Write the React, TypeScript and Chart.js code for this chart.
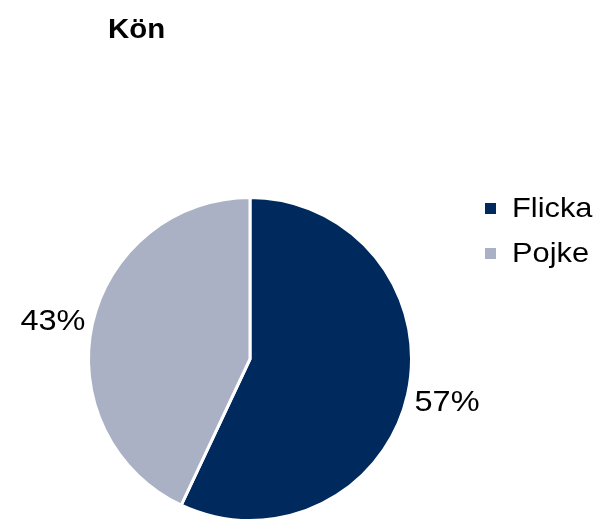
import React, { useEffect, useRef } from "react";
import { Chart, registerables } from "chart.js";

Chart.register(...registerables);

const title = "Kön";
const categories = ["Flicka", "Pojke"];
const values = [57, 43];
const colors = ["#002A5E", "#AAB1C4"];

const FONT = "'Liberation Sans', Arial, sans-serif";

function stretchText(ctx: CanvasRenderingContext2D, text: string, x: number, y: number, sx: number, align: "left" | "center") {
  const w = ctx.measureText(text).width * sx;
  const left = align === "center" ? x - w / 2 : x;
  ctx.save();
  ctx.translate(left, y);
  ctx.scale(sx, 1);
  ctx.textAlign = "left";
  ctx.fillText(text, 0, 0);
  ctx.restore();
}

const labelOffsetY = [-2, 5];

const overlay = {
  id: "overlay",
  afterDraw(chart: any) {
    const ctx = chart.ctx;
    const meta = chart.getDatasetMeta(0);
    ctx.save();
    ctx.fillStyle = "#000";
    ctx.textBaseline = "alphabetic";
    // title
    ctx.font = `bold 28px ${FONT}`;
    stretchText(ctx, title, 108, 38, 1.05, "left");
    // value labels
    ctx.font = `29px ${FONT}`;
    const total = values.reduce((a, b) => a + b, 0);
    meta.data.forEach((arc: any, i: number) => {
      const mid = (arc.startAngle + arc.endAngle) / 2;
      const r = arc.outerRadius * 1.25;
      const x = arc.x + Math.cos(mid) * r;
      const y = arc.y + Math.sin(mid) * r + labelOffsetY[i];
      stretchText(ctx, Math.round((values[i] / total) * 100) + "%", x, y + 10, 1.12, "center");
    });
    // legend
    ctx.font = `28px ${FONT}`;
    categories.forEach((c, i) => {
      const y = 217 + i * 45;
      ctx.fillStyle = colors[i];
      ctx.fillRect(485, y - 14, 11, 11);
      ctx.fillStyle = "#000";
      stretchText(ctx, c, 512, y, 1.1, "left");
    });
    ctx.restore();
  },
};

export default function App() {
  const ref = useRef<HTMLCanvasElement>(null);
  useEffect(() => {
    const chart = new Chart(ref.current!, {
      type: "pie",
      data: {
        labels: categories,
        datasets: [
          {
            data: values,
            backgroundColor: colors,
            borderColor: "#fff",
            borderWidth: 3,
            hoverOffset: 0,
          },
        ],
      },
      options: {
        animation: false,
        responsive: false,
        layout: { padding: { left: 84, right: 184, top: 196, bottom: -6 } },
        plugins: { legend: { display: false }, tooltip: { enabled: false } },
      },
      plugins: [overlay],
    });
    return () => chart.destroy();
  }, []);
  return (
    <div style={{ position: "absolute", left: 0, top: 0, width: 600, height: 522, background: "#fff" }}>
      <canvas ref={ref} width={600} height={522} style={{ width: 600, height: 522 }} />
    </div>
  );
}
